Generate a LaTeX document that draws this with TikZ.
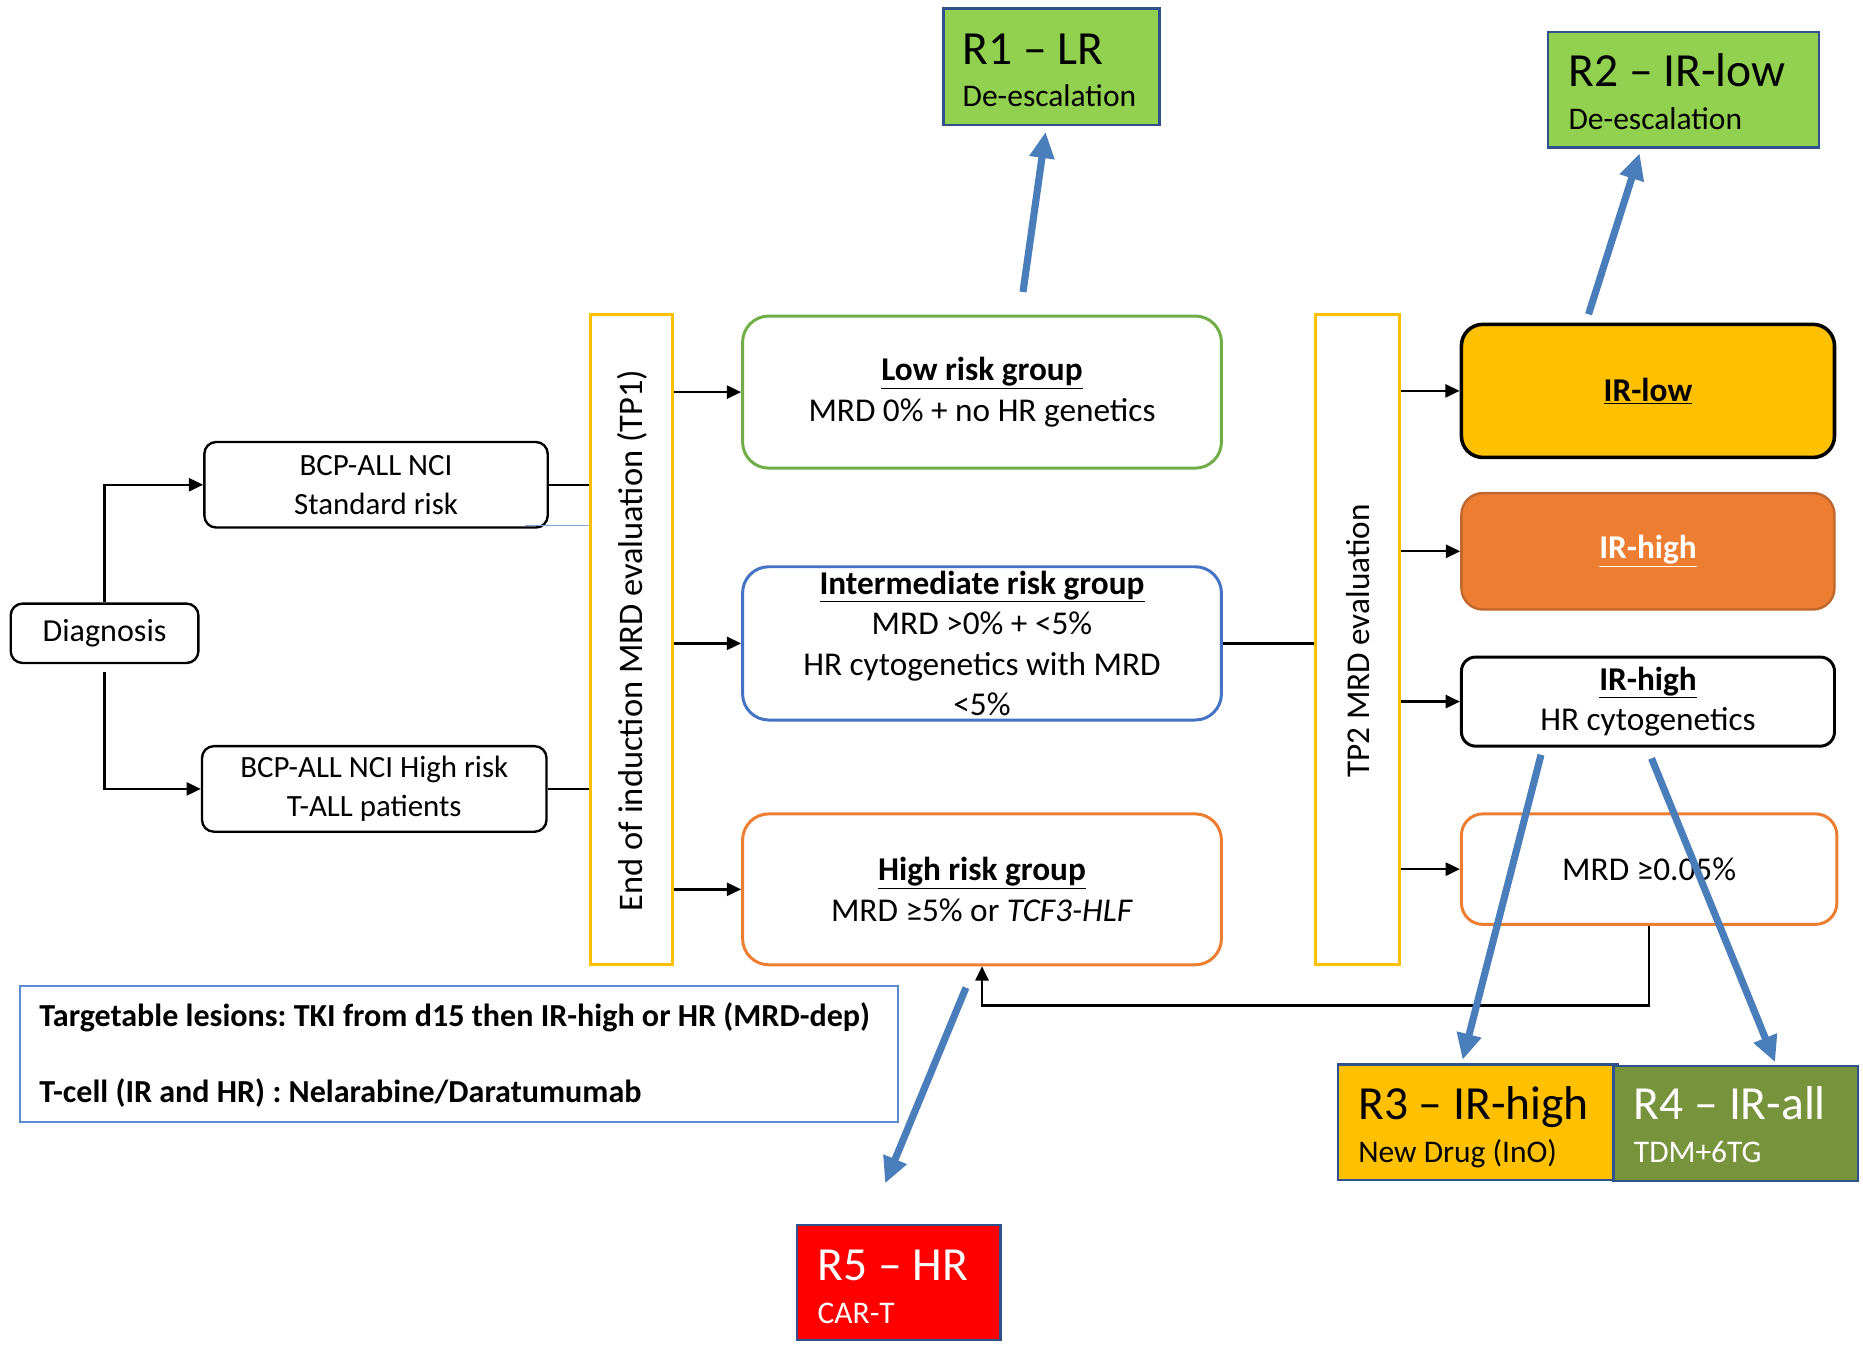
\documentclass[tikz,border=0pt]{standalone}
\usepackage{fontspec}
\setmainfont{Carlito}
\usetikzlibrary{arrows.meta,calc}
\frenchspacing
\definecolor{tpyellow}{HTML}{FFC000}
\definecolor{lrgreen}{HTML}{70AD47}
\definecolor{mrblue}{HTML}{4472C4}
\definecolor{hrorange}{HTML}{ED7D31}
\definecolor{irgold}{HTML}{FFC000}
\definecolor{iror}{HTML}{ED7D31}
\definecolor{irorborder}{HTML}{C0682C}
\definecolor{rgreen}{HTML}{92D050}
\definecolor{rolive}{HTML}{77933C}
\definecolor{rred}{HTML}{FF0000}
\definecolor{rblue}{HTML}{2F528F}
\definecolor{arrblue}{HTML}{4A7EBB}
\definecolor{tblue}{HTML}{5B8BD0}
\definecolor{thinblue}{HTML}{7FA7D8}
\tikzset{
  blk/.style={draw, line width=2pt, rounded corners=10pt, align=center, inner sep=0pt, font=\fontsize{26}{33}\selectfont},
  grp/.style={draw, line width=2.5pt, rounded corners=22pt, minimum width=403pt, align=center, inner sep=0pt, font=\fontsize{28}{34}\selectfont},
  tpbox/.style={draw=tpyellow, line width=2.5pt, inner sep=0pt},
  tptext/.style={rotate=90, inner sep=0pt, font=\fontsize{28}{34}\selectfont},
  irbox/.style={rounded corners=18pt, minimum width=314pt, align=center, inner sep=0pt, font=\fontsize{28}{34}\selectfont},
  rbox/.style={draw=rblue, line width=2pt, minimum height=97pt, inner sep=0pt},
  bigt/.style={font=\fontsize{40}{44}\selectfont, anchor=base west, inner sep=0pt},
  smallt/.style={font=\fontsize{26.5}{30}\selectfont, anchor=base west, inner sep=0pt},
  tgt/.style={font=\fontsize{27}{30}\selectfont\bfseries, anchor=west, inner sep=0pt},
  arr/.style={line width=2pt, -{Triangle[length=12pt,width=11pt]}},
  conn/.style={line width=2pt},
  barr/.style={draw=arrblue, line width=6pt, -{Triangle[length=22pt,width=20pt]}},
}
\begin{document}
\begin{tikzpicture}[x=1pt,y=-1pt]
\fill[white] (0,0) rectangle (1568,1135);
\path[use as bounding box] (0,0) rectangle (1568,1135);

% left column
\node[blk, minimum width=158pt, minimum height=50pt, font=\fontsize{27}{33}\selectfont] (diag) at (88,533) {Diagnosis};
\node[blk, minimum width=289pt, minimum height=72pt] (std) at (316.5,408) {BCP-ALL NCI\\Standard risk};
\node[blk, minimum width=290pt, minimum height=72pt] (hrl) at (315,664) {BCP-ALL NCI High risk\\T-ALL patients};

% TP1
\node[tpbox, minimum width=69pt, minimum height=547pt] (tp1) at (531.5,538.5) {};
\node[tptext, font=\fontsize{29}{34}\selectfont] (tp1t) at (532,539) {End of induction MRD evaluation (TP1)};

% risk groups
\node[grp, draw=lrgreen, minimum height=128pt] (low) at (826.5,330) {\underline{\textbf{Low risk group}}\\MRD 0\% + no HR genetics};
\node[grp, draw=mrblue, minimum height=129pt] (mid) at (826.5,541.5) {\underline{\textbf{Intermediate risk group}}\\MRD >0\% + <5\%\\HR cytogenetics with MRD\\<5\%};
\node[grp, draw=hrorange, minimum height=127pt] (high) at (826.5,748.5) {\underline{\textbf{High risk group}}\\MRD ≥5\% or \textit{TCF3-HLF}};

% TP2
\node[tpbox, minimum width=71pt, minimum height=547pt] (tp2) at (1142.5,538.5) {};
\node[tptext] (tp2t) at (1143,539.5) {TP2 MRD evaluation};

% IR boxes
\node[irbox, draw=black, line width=3pt, fill=irgold, minimum height=112pt] (irlow) at (1387,329) {\underline{\textbf{IR-low}}};
\node[irbox, draw=irorborder, line width=2pt, fill=iror, minimum height=98pt, text=white] (irhigh) at (1387,464) {\underline{\textbf{IR-high}}};
\node[irbox, draw=black, line width=2.5pt, rounded corners=12pt, minimum height=75pt] (irhr) at (1387,590.5) {\underline{\textbf{IR-high}}\\HR cytogenetics};
\node[irbox, draw=hrorange, line width=2.5pt, minimum width=316pt, minimum height=93pt] (mrd) at (1388,731.5) {MRD ≥0.05\%};

% R boxes
\node[rbox, fill=rgreen, minimum width=182pt, minimum height=98pt] (r1) at (885,56) {};
\node[bigt] (r1a) at (810,54) {R1 – LR};
\node[smallt] (r1b) at (810,90) {De-escalation};

\node[rbox, fill=rgreen, minimum width=228pt] (r2) at (1417,75.5) {};
\node[bigt] (r2a) at (1320,73) {R2 – IR-low};
\node[smallt] (r2b) at (1320,109) {De-escalation};

\node[rbox, fill=irgold, minimum width=236pt] (r3) at (1244,944.5) {};
\node[bigt] (r3a) at (1143,942) {R3 – IR-high};
\node[smallt] (r3b) at (1143,978) {New Drug (InO)};

\node[rbox, fill=rolive, minimum width=206pt] (r4) at (1461,945.5) {};
\node[bigt, text=white] (r4a) at (1375,942) {R4 – IR-all};
\node[smallt, text=white] (r4b) at (1375,978) {TDM+6TG};

\node[rbox, fill=rred, minimum width=171pt] (r5) at (756.5,1079.5) {};
\node[bigt, text=white] (r5a) at (688,1078) {R5 – HR};
\node[smallt, text=white] (r5b) at (688,1114) {CAR-T};

% targetable box
\node[draw=tblue, line width=1.5pt, minimum width=739pt, minimum height=114pt, inner sep=0pt] (targ) at (386.5,887) {};
\node[tgt] (t1) at (33,856) {Targetable lesions: TKI from d15 then IR-high or HR (MRD-dep)};
\node[tgt] (t2) at (33,920) {T-cell (IR and HR) : Nelarabine/Daratumumab};

% connectors
\draw[arr] (diag.north) |- (std.west);
\draw[arr] ($(diag.south)+(0,7)$) |- (hrl.west);
\draw[conn] (std.east) -- (std.east -| tp1.west);
\draw[conn] (hrl.east) -- (hrl.east -| tp1.west);
\coordinate (bl) at ($(std.south east)+(-20,-3)$);
\draw[thinblue, line width=1pt] (bl) -- (bl -| tp1.west);

\draw[arr] (low.west -| tp1.east) -- (low.west);
\draw[arr] (mid.west -| tp1.east) -- (mid.west);
\draw[arr] (high.west -| tp1.east) -- (high.west);
\draw[conn] (mid.east) -- (mid.east -| tp2.west);

\draw[arr] (irlow.west -| tp2.east) -- (irlow.west);
\draw[arr] (irhigh.west -| tp2.east) -- (irhigh.west);
\draw[arr] (irhr.west -| tp2.east) -- (irhr.west);
\draw[arr] (mrd.west -| tp2.east) -- (mrd.west);
\draw[arr] (mrd.south) -- ++(0,67) -| (high.south);

% blue arrows
\draw[barr] ($(low.north)+(34.5,-19)$) -- ($(r1.south)+(-5,5)$);
\draw[barr] ($(irlow.north)+(-50,-7)$) -- ($(r2.south)+(-37,4)$);
\draw[barr] ($(irhr.south)+(-90,6)$) -- ($(r3.north)+(-13,-3)$);
\draw[barr] ($(irhr.south)+(3,9)$) -- ($(r4.north)+(33,-2)$);
\draw[barr] ($(high.south)+(-13.5,18)$) -- ($(r5.north)+(-11.5,-34)$);
\end{tikzpicture}
\end{document}
